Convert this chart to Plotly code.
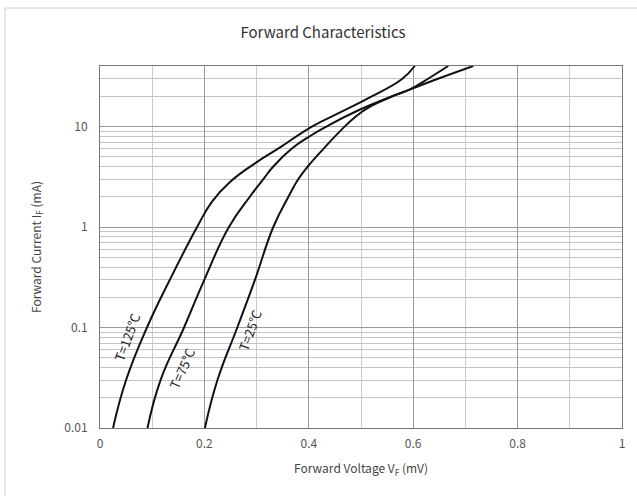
import numpy as np
import plotly.graph_objects as go

# ---- data ----
v_125 = [0.025, 0.050, 0.090, 0.134, 0.186, 0.215, 0.249, 0.297, 0.345, 0.406, 0.460, 0.517, 0.578, 0.603]
i_125 = [0.01, 0.03, 0.1, 0.3, 1.0, 1.8, 2.8, 4.3, 6.2, 10.0, 13.8, 19.5, 29.5, 40.0]

v_75 = [0.091, 0.116, 0.161, 0.200, 0.247, 0.287, 0.313, 0.332, 0.367, 0.402, 0.434, 0.490, 0.560, 0.594, 0.650, 0.715]
i_75 = [0.01, 0.03, 0.1, 0.3, 1.0, 2.0, 3.0, 4.0, 6.0, 8.0, 10.0, 14.1, 20.0, 23.4, 30.2, 40.0]

v_25 = [0.201, 0.225, 0.263, 0.297, 0.332, 0.361, 0.380, 0.398, 0.428, 0.460, 0.490, 0.520, 0.560, 0.594, 0.630, 0.667]
i_25 = [0.01, 0.03, 0.1, 0.3, 1.0, 2.0, 3.0, 4.0, 6.0, 9.0, 12.6, 16.0, 20.0, 23.4, 30.2, 40.0]

series_names = ["T=125℃", "T=75℃", "T=25℃"]
label_x = [0.051, 0.157, 0.287]
label_y = [0.08, 0.039, 0.093]
label_angle = [-70, -66, -70]

x_major_ticks = [0, 0.2, 0.4, 0.6, 0.8, 1]
x_major_text = ["0", "0.2", "0.4", "0.6", "0.8", "1"]
x_minor_ticks = [0.1, 0.3, 0.5, 0.7, 0.9]
y_major_ticks = [0.01, 0.1, 1, 10]
y_major_text = ["0.01", "0.1", "1", "10"]
y_minor_ticks = [m * d for d in (0.01, 0.1, 1) for m in range(2, 10)] + [20, 30]
y_top = 40

FONT = "Noto Sans CJK SC, Noto Sans, sans-serif"
W, H = 637, 496
L, R, T, B = 100, 15, 66, 68
PW, PH = W - L - R, H - T - B

fig = go.Figure()
for v, i in [(v_125, i_125), (v_75, i_75), (v_25, i_25)]:
    fig.add_trace(go.Scatter(x=v, y=i, mode="lines",
                             line=dict(color="#111111", width=2, shape="spline", smoothing=1.3),
                             showlegend=False, hoverinfo="skip"))

for name, lx, ly, ang in zip(series_names, label_x, label_y, label_angle):
    fig.add_annotation(x=lx, y=np.log10(ly), text=name, showarrow=False,
                       textangle=ang, font=dict(family=FONT, size=13, color="#222222"))

fig.update_layout(
    width=W, height=H,
    paper_bgcolor="white", plot_bgcolor="white",
    margin=dict(l=L, r=R, t=T, b=B),
    title=dict(text="Forward Characteristics", x=323 / W, xref="container", xanchor="center",
               y=1 - 33 / H, yref="container", yanchor="middle",
               font=dict(family=FONT, size=15, color="#333333")),
    font=dict(family=FONT, color="#555555", size=12),
    shapes=[dict(type="rect", xref="paper", yref="paper", layer="above",
                 x0=(5 - L) / PW, x1=(645 - L) / PW,
                 y0=(H - B - 505) / PH, y1=(H - B - 8) / PH,
                 line=dict(color="#d0d0d0", width=1))],
)

fig.update_xaxes(
    range=[0, 1], tickmode="array", tickvals=x_major_ticks, ticktext=x_major_text,
    showgrid=True, gridcolor="#9a9a9a", gridwidth=1, zeroline=False,
    showline=True, linecolor="#777777", linewidth=1, mirror=True,
    ticks="", ticklabelstandoff=5, tickfont=dict(size=12, color="#555555"),
    minor=dict(tickmode="array", tickvals=x_minor_ticks, showgrid=True,
               gridcolor="#cccccc", gridwidth=1, ticks=""),
    title=dict(text="Forward Voltage V<sub>F</sub> (mV)", standoff=14,
               font=dict(size=12, color="#444444")),
)
fig.update_yaxes(
    type="log", range=[-2, np.log10(y_top)], tickmode="array",
    tickvals=y_major_ticks, ticktext=y_major_text,
    showgrid=True, gridcolor="#9a9a9a", gridwidth=1, zeroline=False,
    showline=True, linecolor="#777777", linewidth=1, mirror=True,
    ticks="", ticklabelstandoff=9, tickfont=dict(size=12, color="#555555"),
    minor=dict(tickmode="array", tickvals=y_minor_ticks, showgrid=True,
               gridcolor="#c4c4c4", gridwidth=1, ticks=""),
    title=dict(text="Forward Current I<sub>F</sub> (mA)", standoff=20,
               font=dict(size=12, color="#444444")),
)

fig.write_html("out.html", config={"displayModeBar": False},
               post_script="document.body.style.margin='0';document.body.style.overflow='hidden';")
